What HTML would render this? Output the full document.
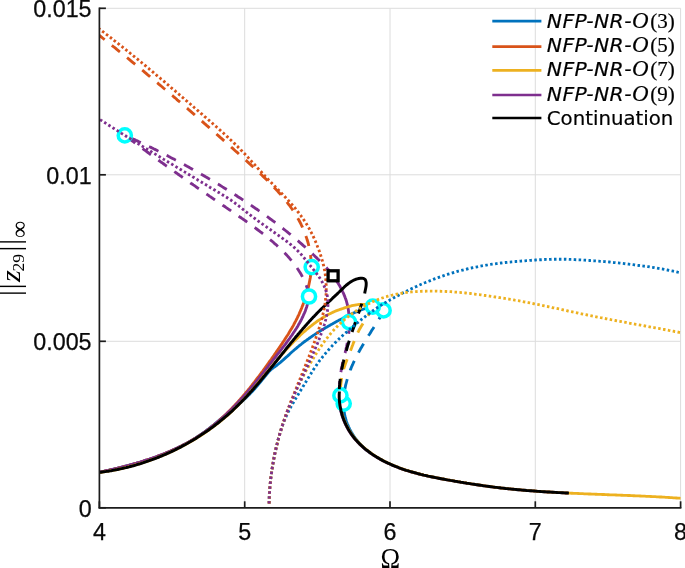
<!DOCTYPE html>
<html><head><meta charset="utf-8"><title>NFP-NR frequency response</title>
<style>
html,body{margin:0;padding:0;background:#fff;}
svg{display:block}
</style></head>
<body>
<svg width="685" height="568" viewBox="0 0 685 568">
<rect width="685" height="568" fill="#fff"/>
<g stroke="#dcdcdc" stroke-width="1"><line x1="244.7" y1="8.3" x2="244.7" y2="507.8"/><line x1="390.0" y1="8.3" x2="390.0" y2="507.8"/><line x1="535.3" y1="8.3" x2="535.3" y2="507.8"/><line x1="680.6" y1="8.3" x2="680.6" y2="507.8"/><line x1="99.4" y1="341.3" x2="680.6" y2="341.3"/><line x1="99.4" y1="174.8" x2="680.6" y2="174.8"/><line x1="99.4" y1="8.3" x2="680.6" y2="8.3"/></g>
<defs><clipPath id="pa"><rect x="99.4" y="8.3" width="581.2" height="499.5"/></clipPath></defs>
<g fill="none" clip-path="url(#pa)">
<path d="M99.4,472.3 L100.9,472.0 L102.3,471.6 L103.8,471.3 L105.3,471.0 L106.7,470.7 L108.2,470.3 L109.6,470.0 L111.1,469.7 L112.6,469.3 L114.0,469.0 L115.5,468.6 L117.0,468.3 L118.4,467.9 L119.9,467.6 L121.4,467.2 L122.8,466.8 L124.3,466.5 L125.8,466.1 L127.2,465.7 L128.7,465.3 L130.2,464.9 L131.6,464.5 L133.1,464.1 L134.5,463.7 L136.0,463.3 L137.4,462.9 L138.9,462.5 L140.4,462.0 L141.8,461.6 L143.3,461.2 L144.7,460.7 L146.1,460.2 L147.6,459.8 L149.0,459.3 L150.5,458.8 L151.9,458.3 L153.3,457.9 L154.7,457.3 L156.2,456.8 L157.6,456.3 L159.0,455.8 L160.4,455.3 L161.8,454.7 L163.2,454.2 L164.6,453.6 L166.0,453.1 L167.4,452.5 L168.8,451.9 L170.2,451.3 L171.6,450.7 L172.9,450.1 L174.3,449.5 L175.7,448.8 L177.0,448.2 L178.4,447.5 L179.7,446.9 L181.1,446.2 L182.4,445.5 L183.8,444.8 L185.1,444.1 L186.4,443.4 L187.7,442.7 L189.0,441.9 L190.3,441.2 L191.6,440.4 L192.9,439.7 L194.2,438.9 L195.5,438.1 L196.7,437.3 L198.0,436.4 L199.2,435.6 L200.5,434.8 L201.7,433.9 L203.0,433.0 L204.2,432.2 L205.4,431.3 L206.6,430.4 L207.8,429.5 L209.0,428.5 L210.2,427.6 L211.4,426.7 L212.6,425.7 L213.8,424.8 L214.9,423.8 L216.1,422.8 L217.3,421.9 L218.4,420.9 L219.6,419.9 L220.8,419.0 L221.9,418.0 L223.1,417.0 L224.3,416.0 L225.4,415.1 L226.6,414.1 L227.7,413.1 L228.9,412.1 L230.1,411.2 L231.2,410.2 L232.4,409.3 L233.5,408.3 L234.7,407.3 L235.9,406.4 L237.0,405.4 L238.2,404.5 L239.4,403.5 L240.5,402.6 L241.6,401.6 L242.8,400.6 L243.9,399.6 L245.0,398.6 L246.1,397.6 L247.2,396.6 L248.3,395.5 L249.4,394.5 L250.4,393.4 L251.4,392.3 L252.5,391.2 L253.5,390.1 L254.5,389.0 L255.5,387.8 L256.5,386.7 L257.5,385.5 L258.5,384.4 L259.5,383.2 L260.4,382.1 L261.4,380.9 L262.3,379.7 L263.3,378.5 L264.3,377.4 L265.2,376.2 L266.2,375.0 L267.1,373.8 L268.1,372.7 L269.0,371.6 L270.1,370.5 L271.2,369.5 L272.3,368.5 L273.5,367.6 L274.8,366.8 L276.0,365.9 L277.2,365.0 L278.4,364.0 L279.5,363.1 L280.7,362.1 L281.8,361.1 L283.0,360.1 L284.1,359.1 L285.2,358.1 L286.3,357.1 L287.5,356.1 L288.6,355.1 L289.7,354.1 L290.8,353.0 L291.9,352.0 L293.1,351.0 L294.2,350.0 L295.3,349.1 L296.5,348.1 L297.6,347.1 L298.8,346.2 L300.0,345.2 L301.2,344.3 L302.3,343.3 L303.5,342.4 L304.7,341.5 L306.0,340.6 L307.2,339.7 L308.4,338.9 L309.6,338.0 L310.9,337.1 L312.1,336.3 L313.3,335.4 L314.6,334.6 L315.9,333.8 L317.1,332.9 L318.4,332.1 L319.7,331.3 L321.0,330.5 L322.2,329.7 L323.5,329.0 L324.8,328.2 L326.1,327.4 L327.4,326.7 L328.7,325.9 L330.0,325.2 L331.3,324.4 L332.7,323.7 L334.0,322.9 L335.3,322.2 L336.6,321.5 L338.0,320.8 L339.3,320.1 L340.6,319.4 L342.0,318.7 L343.3,318.0 L344.6,317.3 L346.0,316.6 L347.3,316.0 L348.7,315.3 L350.0,314.6 L351.4,314.0 L352.8,313.4 L354.1,312.8 L355.5,312.2 L356.9,311.6 L358.3,311.0 L359.7,310.5 L361.1,310.0 L362.5,309.5 L364.0,309.0 L365.4,308.5 L366.9,308.1 L368.4,307.7 L369.9,307.4 L371.4,307.2 L372.9,307.0 L374.3,306.9 L375.8,307.0 L377.3,307.1 L378.7,307.4 L380.1,307.9 L381.5,308.5 L382.9,309.2 L384.2,310.2" stroke="#0072BD" stroke-width="2.85" fill="none" stroke-linejoin="round"/>
<path d="M384.4,310.4 L383.6,311.7 L382.8,313.0 L382.0,314.3 L381.2,315.6 L380.4,316.9 L379.6,318.1 L378.8,319.4 L378.0,320.7 L377.2,322.0 L376.4,323.3 L375.5,324.6 L374.7,325.9 L373.9,327.2 L373.1,328.5 L372.2,329.8 L371.4,331.1 L370.6,332.4 L369.8,333.7 L368.9,335.0 L368.1,336.3 L367.3,337.6 L366.5,339.0 L365.7,340.3 L364.9,341.6 L364.1,342.9 L363.3,344.2 L362.5,345.6 L361.7,346.9 L360.9,348.2 L360.2,349.6 L359.4,350.9 L358.7,352.3 L358.0,353.6 L357.2,355.0 L356.5,356.4 L355.8,357.7 L355.1,359.1 L354.5,360.5 L353.8,361.9 L353.2,363.3 L352.6,364.7 L351.9,366.1 L351.3,367.5 L350.8,368.9 L350.2,370.3 L349.7,371.8 L349.2,373.2 L348.7,374.6 L348.2,376.1 L347.7,377.6 L347.3,379.0 L346.9,380.5 L346.5,382.0 L346.1,383.5 L345.7,384.9 L345.4,386.4 L345.1,387.9 L344.8,389.5 L344.6,391.0 L344.4,392.5 L344.2,394.0 L344.0,395.6 L343.9,397.1 L343.8,398.7 L343.7,400.2 L343.6,401.8 L343.6,403.4" stroke="#0072BD" stroke-width="2.85" fill="none" stroke-dasharray="10.4 9.2" stroke-dashoffset="0.0"/>
<path d="M343.7,403.6 L343.7,405.2 L343.7,406.8 L343.8,408.4 L343.9,409.9 L344.1,411.5 L344.4,413.1 L344.6,414.6 L345.0,416.2 L345.3,417.7 L345.8,419.2 L346.2,420.7 L346.7,422.2 L347.3,423.7 L347.9,425.1 L348.5,426.6 L349.1,428.0 L349.8,429.4 L350.6,430.8 L351.4,432.2 L352.2,433.5 L353.0,434.9 L353.9,436.2 L354.8,437.5 L355.7,438.8 L356.7,440.0 L357.7,441.2 L358.7,442.5 L359.8,443.6 L360.9,444.8 L362.0,445.9 L363.1,447.1 L364.2,448.1 L365.4,449.2 L366.6,450.2 L367.8,451.2 L369.1,452.2 L370.3,453.2" stroke="#0072BD" stroke-width="2.85" fill="none" stroke-linejoin="round"/>
<path d="M99.5,472.2 L100.9,471.9 L102.4,471.6 L103.8,471.3 L105.3,471.0 L106.7,470.7 L108.2,470.4 L109.6,470.0 L111.1,469.7 L112.6,469.4 L114.0,469.0 L115.5,468.7 L116.9,468.3 L118.4,468.0 L119.9,467.6 L121.3,467.3 L122.8,466.9 L124.3,466.5 L125.7,466.1 L127.2,465.8 L128.7,465.4 L130.1,465.0 L131.6,464.6 L133.1,464.2 L134.5,463.7 L136.0,463.3 L137.5,462.9 L138.9,462.5 L140.4,462.0 L141.8,461.6 L143.3,461.1 L144.8,460.7 L146.2,460.2 L147.7,459.7 L149.1,459.3 L150.5,458.8 L152.0,458.3 L153.4,457.8 L154.9,457.3 L156.3,456.8 L157.7,456.2 L159.2,455.7 L160.6,455.2 L162.0,454.6 L163.4,454.1 L164.8,453.5 L166.2,452.9 L167.6,452.3 L169.0,451.7 L170.4,451.1 L171.8,450.5 L173.2,449.9 L174.6,449.3 L176.0,448.7 L177.3,448.0 L178.7,447.4 L180.1,446.7 L181.4,446.0 L182.8,445.3 L184.1,444.6 L185.4,443.9 L186.8,443.2 L188.1,442.5 L189.4,441.8 L190.7,441.0 L192.0,440.3 L193.3,439.5 L194.6,438.7 L195.9,437.9 L197.2,437.1 L198.4,436.3 L199.7,435.5 L200.9,434.7 L202.2,433.8 L203.4,432.9 L204.6,432.1 L205.9,431.2 L207.1,430.3 L208.3,429.4 L209.5,428.5 L210.7,427.6 L211.8,426.6 L213.0,425.7 L214.2,424.7 L215.3,423.8 L216.5,422.8 L217.6,421.8 L218.8,420.8 L219.9,419.8 L221.0,418.8 L222.1,417.8 L223.2,416.8 L224.3,415.7 L225.4,414.7 L226.5,413.7 L227.6,412.6 L228.7,411.5 L229.7,410.5 L230.8,409.4 L231.9,408.3 L232.9,407.2 L234.0,406.1 L235.0,405.0 L236.0,403.9 L237.1,402.8 L238.1,401.6 L239.1,400.5 L240.1,399.4 L241.1,398.2 L242.1,397.1 L243.1,395.9 L244.1,394.8 L245.1,393.6 L246.0,392.5 L247.0,391.3 L248.0,390.1 L248.9,389.0 L249.9,387.8 L250.8,386.6 L251.8,385.4 L252.7,384.2 L253.6,383.0 L254.6,381.8 L255.5,380.6 L256.4,379.4 L257.3,378.2 L258.3,377.0 L259.2,375.8 L260.1,374.6 L261.0,373.4 L261.9,372.2 L262.8,371.0 L263.6,369.8 L264.5,368.6 L265.4,367.3 L266.3,366.1 L267.2,364.9 L268.1,363.7 L268.9,362.4 L269.8,361.2 L270.7,360.0 L271.6,358.8 L272.4,357.5 L273.3,356.3 L274.2,355.1 L275.0,353.8 L275.9,352.6 L276.7,351.3 L277.6,350.1 L278.5,348.9 L279.3,347.6 L280.2,346.4 L281.0,345.1 L281.9,343.9 L282.7,342.6 L283.6,341.3 L284.4,340.1 L285.2,338.8 L286.0,337.5 L286.8,336.3 L287.7,335.0 L288.5,333.7 L289.2,332.4 L290.0,331.1 L290.8,329.8 L291.6,328.5 L292.3,327.2 L293.1,325.9 L293.8,324.6 L294.5,323.2 L295.2,321.9 L295.9,320.6 L296.6,319.2 L297.3,317.9 L297.9,316.5 L298.6,315.1 L299.2,313.8 L299.8,312.4 L300.4,311.0 L301.0,309.6 L301.6,308.2 L302.1,306.8 L302.7,305.4 L303.2,304.0 L303.8,302.6 L304.3,301.2 L304.8,299.7 L305.2,298.3 L305.7,296.9 L306.1,295.4 L306.6,294.0 L307.0,292.5 L307.4,291.0 L307.8,289.6 L308.1,288.1 L308.5,286.6 L308.8,285.2 L309.1,283.7 L309.4,282.2 L309.7,280.7 L310.0,279.2 L310.3,277.7 L310.5,276.2 L310.7,274.7 L310.9,273.2 L311.1,271.7 L311.2,270.2 L311.4,268.7 L311.5,267.2" stroke="#D95319" stroke-width="2.85" fill="none" stroke-linejoin="round"/>
<path d="M311.3,267.4 L311.3,265.8 L311.2,264.2 L311.2,262.7 L311.1,261.1 L311.0,259.5 L310.8,258.0 L310.7,256.5 L310.5,254.9 L310.2,253.4 L310.0,251.9 L309.7,250.4 L309.5,248.9 L309.1,247.4 L308.8,245.9 L308.5,244.4 L308.1,243.0 L307.7,241.5 L307.2,240.1 L306.8,238.6 L306.3,237.2 L305.8,235.8 L305.3,234.3 L304.8,232.9 L304.3,231.5 L303.7,230.2 L303.1,228.8 L302.5,227.4 L301.9,226.1 L301.2,224.7 L300.6,223.4 L299.9,222.0 L299.2,220.7 L298.5,219.4 L297.7,218.1 L297.0,216.8 L296.2,215.5 L295.4,214.2 L294.6,212.9 L293.8,211.7 L293.0,210.4 L292.2,209.2 L291.3,208.0 L290.4,206.7 L289.5,205.5 L288.6,204.3 L287.7,203.1 L286.8,201.9 L285.9,200.7 L284.9,199.6 L284.0,198.4 L283.0,197.2 L282.0,196.1 L281.0,195.0 L280.0,193.8 L279.0,192.7 L278.0,191.6 L277.0,190.4 L275.9,189.3 L274.9,188.2 L273.8,187.1 L272.8,186.0 L271.7,184.9 L270.7,183.9 L269.6,182.8 L268.5,181.7 L267.4,180.6 L266.4,179.6 L265.3,178.5 L264.2,177.4 L263.1,176.4 L262.0,175.3 L260.9,174.3 L259.8,173.2 L258.7,172.2 L257.6,171.1 L256.5,170.1 L255.4,169.1 L254.3,168.0 L253.2,167.0 L252.0,166.0 L250.9,164.9 L249.8,163.9 L248.7,162.9 L247.6,161.9 L246.5,160.8 L245.3,159.8 L244.2,158.8 L243.1,157.8 L242.0,156.8 L240.8,155.8 L239.7,154.8 L238.6,153.7 L237.5,152.7 L236.3,151.7 L235.2,150.7 L234.1,149.7 L233.0,148.7 L231.8,147.7 L230.7,146.7 L229.6,145.7 L228.4,144.7 L227.3,143.6 L226.2,142.6 L225.0,141.6 L223.9,140.6 L222.8,139.6 L221.7,138.6 L220.5,137.6 L219.4,136.6 L218.3,135.6 L217.1,134.6 L216.0,133.6 L214.9,132.6 L213.7,131.6 L212.6,130.6 L211.5,129.6 L210.3,128.6 L209.2,127.6 L208.1,126.6 L206.9,125.6 L205.8,124.6 L204.6,123.6 L203.5,122.6 L202.4,121.6 L201.2,120.6 L200.1,119.6 L199.0,118.6 L197.8,117.6 L196.7,116.6 L195.5,115.6 L194.4,114.6 L193.3,113.6 L192.1,112.6 L191.0,111.6 L189.8,110.6 L188.7,109.7 L187.6,108.7 L186.4,107.7 L185.3,106.7 L184.1,105.7 L183.0,104.7 L181.8,103.7 L180.7,102.7 L179.5,101.7 L178.4,100.8 L177.2,99.8 L176.1,98.8 L175.0,97.8 L173.8,96.8 L172.7,95.8 L171.5,94.9 L170.4,93.9 L169.2,92.9 L168.1,91.9 L166.9,90.9 L165.8,89.9 L164.6,89.0 L163.4,88.0 L162.3,87.0 L161.1,86.0 L160.0,85.1 L158.8,84.1 L157.7,83.1 L156.5,82.1 L155.4,81.2 L154.2,80.2 L153.0,79.2 L151.9,78.2 L150.7,77.3 L149.6,76.3 L148.4,75.3 L147.2,74.4 L146.1,73.4 L144.9,72.4 L143.8,71.4 L142.6,70.5 L141.4,69.5 L140.3,68.5 L139.1,67.6 L137.9,66.6 L136.8,65.7 L135.6,64.7 L134.4,63.7 L133.3,62.8 L132.1,61.8 L130.9,60.8 L129.8,59.9 L128.6,58.9 L127.4,58.0 L126.2,57.0 L125.1,56.1 L123.9,55.1 L122.7,54.1 L121.5,53.2 L120.4,52.2 L119.2,51.3 L118.0,50.3 L116.8,49.4 L115.7,48.4 L114.5,47.5 L113.3,46.5 L112.1,45.6 L110.9,44.6 L109.8,43.7 L108.6,42.7 L107.4,41.8 L106.2,40.8 L105.0,39.9 L103.8,39.0 L102.6,38.0 L101.5,37.1 L100.3,36.1 L99.1,35.2 L97.9,34.2 L96.7,33.3 L95.5,32.4 L94.3,31.4 L93.1,30.5 L91.9,29.6" stroke="#D95319" stroke-width="2.85" fill="none" stroke-dasharray="10.4 9.2" stroke-dashoffset="17.6"/>
<path d="M99.4,472.2 L100.9,471.9 L102.3,471.6 L103.8,471.3 L105.3,471.0 L106.7,470.7 L108.2,470.4 L109.6,470.1 L111.1,469.7 L112.6,469.4 L114.0,469.1 L115.5,468.7 L117.0,468.4 L118.4,468.0 L119.9,467.7 L121.4,467.3 L122.8,466.9 L124.3,466.6 L125.8,466.2 L127.2,465.8 L128.7,465.4 L130.2,465.0 L131.6,464.6 L133.1,464.2 L134.6,463.8 L136.0,463.4 L137.5,462.9 L138.9,462.5 L140.4,462.1 L141.8,461.6 L143.3,461.2 L144.7,460.7 L146.2,460.2 L147.6,459.8 L149.1,459.3 L150.5,458.8 L152.0,458.3 L153.4,457.8 L154.8,457.3 L156.3,456.8 L157.7,456.2 L159.1,455.7 L160.5,455.1 L161.9,454.6 L163.4,454.0 L164.8,453.5 L166.2,452.9 L167.6,452.3 L169.0,451.7 L170.4,451.1 L171.7,450.5 L173.1,449.9 L174.5,449.3 L175.9,448.6 L177.2,448.0 L178.6,447.3 L180.0,446.6 L181.3,446.0 L182.7,445.3 L184.0,444.6 L185.3,443.9 L186.7,443.2 L188.0,442.4 L189.3,441.7 L190.6,441.0 L191.9,440.2 L193.2,439.5 L194.5,438.7 L195.8,437.9 L197.1,437.1 L198.3,436.3 L199.6,435.5 L200.9,434.6 L202.1,433.8 L203.4,433.0 L204.6,432.1 L205.8,431.2 L207.0,430.3 L208.2,429.5 L209.4,428.6 L210.6,427.6 L211.8,426.7 L213.0,425.8 L214.2,424.8 L215.4,423.9 L216.5,422.9 L217.7,422.0 L218.8,421.0 L220.0,420.0 L221.1,419.0 L222.2,418.0 L223.4,417.0 L224.5,416.0 L225.6,415.0 L226.7,413.9 L227.8,412.9 L228.9,411.9 L230.0,410.8 L231.0,409.7 L232.1,408.7 L233.2,407.6 L234.2,406.5 L235.3,405.4 L236.3,404.3 L237.4,403.2 L238.4,402.1 L239.5,401.0 L240.5,399.9 L241.5,398.8 L242.5,397.7 L243.6,396.6 L244.6,395.4 L245.6,394.3 L246.6,393.1 L247.6,392.0 L248.5,390.8 L249.5,389.7 L250.5,388.5 L251.5,387.4 L252.4,386.2 L253.4,385.1 L254.4,383.9 L255.3,382.7 L256.3,381.5 L257.2,380.4 L258.2,379.2 L259.1,378.0 L260.0,376.8 L261.0,375.6 L261.9,374.5 L262.8,373.3 L263.8,372.1 L264.7,370.9 L265.6,369.7 L266.5,368.5 L267.5,367.3 L268.4,366.1 L269.3,364.9 L270.2,363.7 L271.2,362.5 L272.1,361.3 L273.0,360.1 L273.9,358.9 L274.9,357.8 L275.8,356.6 L276.7,355.4 L277.6,354.2 L278.6,353.0 L279.5,351.8 L280.4,350.6 L281.4,349.4 L282.3,348.2 L283.2,347.0 L284.1,345.8 L285.1,344.6 L286.0,343.4 L286.9,342.1 L287.8,340.9 L288.7,339.7 L289.6,338.5 L290.4,337.2 L291.3,336.0 L292.2,334.8 L293.0,333.5 L293.8,332.3 L294.7,331.0 L295.5,329.7 L296.3,328.5 L297.1,327.2 L297.9,325.9 L298.6,324.6 L299.4,323.3 L300.1,322.0 L300.8,320.7 L301.5,319.4 L302.1,318.0 L302.8,316.7 L303.4,315.3 L304.0,313.9 L304.6,312.6 L305.2,311.2 L305.7,309.8 L306.2,308.3 L306.7,306.9 L307.1,305.5 L307.5,304.0 L307.9,302.5 L308.2,301.0 L308.6,299.5 L308.8,298.0 L309.1,296.5" stroke="#7E2F8E" stroke-width="2.85" fill="none" stroke-linejoin="round"/>
<path d="M309.4,296.5 L309.1,294.9 L308.8,293.4 L308.4,291.9 L307.9,290.4 L307.5,288.9 L307.0,287.5 L306.5,286.0 L306.0,284.6 L305.4,283.2 L304.8,281.8 L304.2,280.5 L303.5,279.1 L302.9,277.8 L302.2,276.4 L301.5,275.1 L300.8,273.8 L300.0,272.5 L299.2,271.3 L298.4,270.0 L297.6,268.8 L296.8,267.5 L295.9,266.3 L295.0,265.1 L294.1,263.9 L293.2,262.7 L292.3,261.6 L291.3,260.4 L290.4,259.3 L289.4,258.1 L288.4,257.0 L287.4,255.9 L286.4,254.8 L285.4,253.7 L284.3,252.6 L283.3,251.6 L282.2,250.5 L281.1,249.5 L280.0,248.4 L278.9,247.4 L277.8,246.4 L276.7,245.3 L275.6,244.3 L274.4,243.3 L273.3,242.3 L272.2,241.3 L271.0,240.4 L269.8,239.4 L268.7,238.4 L267.5,237.5 L266.3,236.5 L265.2,235.5 L264.0,234.6 L262.8,233.7 L261.6,232.7 L260.4,231.8 L259.2,230.9 L258.0,230.0 L256.7,229.0 L255.5,228.1 L254.3,227.2 L253.1,226.3 L251.9,225.4 L250.6,224.5 L249.4,223.7 L248.2,222.8 L246.9,221.9 L245.7,221.0 L244.4,220.1 L243.2,219.3 L241.9,218.4 L240.7,217.5 L239.4,216.7 L238.2,215.8 L236.9,214.9 L235.7,214.1 L234.4,213.2 L233.2,212.3 L231.9,211.5 L230.7,210.6 L229.4,209.8 L228.1,208.9 L226.9,208.1 L225.6,207.2 L224.4,206.3 L223.1,205.5 L221.9,204.6 L220.6,203.8 L219.4,202.9 L218.1,202.1 L216.9,201.2 L215.6,200.3 L214.4,199.5 L213.1,198.6 L211.9,197.8 L210.7,196.9 L209.4,196.1 L208.2,195.2 L206.9,194.3 L205.7,193.5 L204.4,192.6 L203.2,191.8 L202.0,190.9 L200.7,190.0 L199.5,189.2 L198.2,188.3 L197.0,187.5 L195.8,186.6 L194.5,185.7 L193.3,184.9 L192.1,184.0 L190.8,183.2 L189.6,182.3 L188.4,181.4 L187.1,180.6 L185.9,179.7 L184.7,178.8 L183.4,178.0 L182.2,177.1 L181.0,176.2 L179.7,175.4 L178.5,174.5 L177.3,173.6 L176.1,172.8 L174.8,171.9 L173.6,171.0 L172.4,170.1 L171.1,169.3 L169.9,168.4 L168.7,167.5 L167.5,166.6 L166.2,165.8 L165.0,164.9 L163.8,164.0 L162.6,163.1 L161.3,162.3 L160.1,161.4 L158.9,160.5 L157.7,159.6 L156.4,158.7 L155.2,157.8 L154.0,157.0 L152.8,156.1 L151.6,155.2 L150.3,154.3 L149.1,153.4 L147.9,152.5 L146.7,151.6 L145.5,150.7 L144.2,149.8 L143.0,148.9 L141.8,148.0 L140.6,147.1 L139.4,146.2 L138.1,145.3 L136.9,144.4 L135.7,143.5 L134.5,142.6 L133.3,141.7 L132.1,140.8 L130.8,139.9 L129.6,139.0 L128.4,138.1 L127.2,137.2 L126.0,136.2 L124.8,135.3" stroke="#7E2F8E" stroke-width="2.85" fill="none" stroke-dasharray="10.4 9.2" stroke-dashoffset="18.2"/>
<path d="M124.9,135.3 L126.3,135.9 L127.6,136.5 L129.0,137.1 L130.4,137.8 L131.7,138.4 L133.1,139.0 L134.5,139.6 L135.9,140.3 L137.2,140.9 L138.6,141.6 L140.0,142.2 L141.3,142.8 L142.7,143.5 L144.1,144.1 L145.4,144.8 L146.8,145.4 L148.1,146.1 L149.5,146.8 L150.9,147.4 L152.2,148.1 L153.6,148.8 L154.9,149.4 L156.3,150.1 L157.6,150.8 L159.0,151.5 L160.3,152.1 L161.7,152.8 L163.0,153.5 L164.4,154.2 L165.7,154.9 L167.1,155.6 L168.4,156.3 L169.8,157.0 L171.1,157.7 L172.5,158.4 L173.8,159.1 L175.1,159.8 L176.5,160.5 L177.8,161.2 L179.2,161.9 L180.5,162.7 L181.8,163.4 L183.2,164.1 L184.5,164.8 L185.8,165.6 L187.1,166.3 L188.5,167.0 L189.8,167.8 L191.1,168.5 L192.4,169.2 L193.8,170.0 L195.1,170.7 L196.4,171.5 L197.7,172.2 L199.1,173.0 L200.4,173.7 L201.7,174.5 L203.0,175.2 L204.3,176.0 L205.6,176.8 L206.9,177.5 L208.2,178.3 L209.5,179.1 L210.9,179.8 L212.2,180.6 L213.5,181.4 L214.8,182.2 L216.1,183.0 L217.4,183.8 L218.7,184.5 L220.0,185.3 L221.3,186.1 L222.5,186.9 L223.8,187.7 L225.1,188.5 L226.4,189.3 L227.7,190.1 L229.0,190.9 L230.3,191.7 L231.6,192.6 L232.8,193.4 L234.1,194.2 L235.4,195.0 L236.7,195.8 L237.9,196.7 L239.2,197.5 L240.5,198.3 L241.8,199.1 L243.0,200.0 L244.3,200.8 L245.6,201.7 L246.8,202.5 L248.1,203.3 L249.3,204.2 L250.6,205.0 L251.9,205.9 L253.1,206.7 L254.4,207.6 L255.6,208.5 L256.9,209.3 L258.1,210.2 L259.4,211.1 L260.6,211.9 L261.8,212.8 L263.1,213.7 L264.3,214.6 L265.5,215.4 L266.8,216.3 L268.0,217.2 L269.2,218.1 L270.4,219.0 L271.7,219.9 L272.9,220.8 L274.1,221.7 L275.3,222.6 L276.5,223.5 L277.7,224.5 L278.9,225.4 L280.1,226.3 L281.3,227.2 L282.5,228.2 L283.7,229.1 L284.9,230.0 L286.1,231.0 L287.2,231.9 L288.4,232.9 L289.6,233.8 L290.8,234.8 L291.9,235.7 L293.1,236.7 L294.3,237.7 L295.4,238.6 L296.6,239.6 L297.7,240.6 L298.9,241.6 L300.0,242.6 L301.2,243.6 L302.3,244.6 L303.4,245.6 L304.6,246.6 L305.7,247.6 L306.8,248.6 L307.9,249.6 L309.0,250.6 L310.1,251.7 L311.3,252.7 L312.4,253.7 L313.4,254.8 L314.5,255.8 L315.6,256.9 L316.7,257.9 L317.8,259.0 L318.9,260.0 L319.9,261.1 L321.0,262.2 L322.1,263.3 L323.1,264.4 L324.2,265.4 L325.2,266.5 L326.3,267.6 L327.3,268.7 L328.4,269.8 L329.4,271.0 L330.4,272.1 L331.4,273.2 L332.4,274.3 L333.5,275.5" stroke="#7E2F8E" stroke-width="2.85" fill="none" stroke-dasharray="10.4 9.2" stroke-dashoffset="12.5"/>
<path d="M333.0,275.9 L333.9,277.1 L334.8,278.4 L335.7,279.7 L336.6,281.0 L337.4,282.3 L338.3,283.6 L339.1,284.9 L339.9,286.3 L340.6,287.6 L341.4,289.0 L342.1,290.4 L342.7,291.8 L343.4,293.2 L344.0,294.6 L344.6,296.1 L345.1,297.5 L345.7,299.0 L346.2,300.4 L346.6,301.9 L347.0,303.4 L347.4,304.9 L347.7,306.4 L348.0,307.9 L348.3,309.5 L348.5,311.0 L348.7,312.6 L348.8,314.1 L348.9,315.7 L349.0,317.3 L349.0,318.8 L348.9,320.4 L348.8,322.0" stroke="#7E2F8E" stroke-width="2.85" fill="none" stroke-linejoin="round"/>
<path d="M348.9,322.0 L349.0,323.6 L349.1,325.1 L349.1,326.6 L349.1,328.2 L349.0,329.7 L348.9,331.3 L348.8,332.8 L348.6,334.3 L348.5,335.8 L348.2,337.4 L348.0,338.9 L347.8,340.4 L347.5,341.9 L347.2,343.4 L346.9,345.0 L346.6,346.5 L346.2,348.0 L345.9,349.5 L345.5,351.0 L345.2,352.5 L344.8,354.0 L344.5,355.5 L344.1,357.1 L343.7,358.6 L343.4,360.1 L343.0,361.6 L342.6,363.1 L342.3,364.6 L342.0,366.1 L341.6,367.6 L341.3,369.1 L341.1,370.7 L340.8,372.2 L340.5,373.7 L340.3,375.2 L340.1,376.7 L339.9,378.2 L339.8,379.8 L339.6,381.3 L339.6,382.8 L339.5,384.3 L339.5,385.9 L339.5,387.4 L339.6,389.0 L339.7,390.5 L339.8,392.0 L340.0,393.6 L340.2,395.1" stroke="#7E2F8E" stroke-width="2.85" fill="none" stroke-dasharray="10.4 9.2" stroke-dashoffset="18.2"/>
<path d="M340.4,395.4 L338.9,397.5 L339.0,399.0 L339.1,400.5 L339.2,402.0 L339.4,403.6 L339.6,405.1 L339.9,406.6 L340.2,408.1 L340.5,409.6 L340.8,411.1 L341.2,412.5 L341.6,414.0 L342.0,415.5 L342.5,416.9 L343.0,418.4 L343.5,419.8 L344.1,421.2 L344.7,422.6 L345.3,424.0 L346.0,425.4 L346.7,426.7 L347.4,428.0 L348.1,429.4 L348.9,430.7 L349.7,431.9 L350.5,433.2 L351.3,434.4 L352.2,435.6 L353.1,436.8 L354.0,438.0 L355.0,439.2 L356.0,440.3 L357.0,441.4 L358.0,442.5 L359.0,443.6 L360.1,444.6 L361.2,445.7 L362.3,446.7 L363.4,447.7 L364.5,448.6 L365.7,449.6 L366.9,450.5 L368.1,451.4 L369.3,452.3 L370.5,453.2 L371.8,454.1 L373.0,454.9 L374.3,455.8 L375.6,456.6 L376.9,457.4 L378.2,458.1 L379.5,458.9 L380.8,459.6 L382.2,460.4 L383.5,461.1 L384.9,461.8 L386.2,462.4 L387.6,463.1 L389.0,463.7 L390.4,464.3 L391.7,465.0 L393.1,465.5 L394.5,466.1 L395.9,466.7 L397.3,467.2 L398.8,467.8 L400.2,468.3 L401.6,468.8 L403.0,469.3 L404.5,469.8 L405.9,470.3 L407.3,470.7 L408.8,471.2 L410.2,471.6 L411.7,472.0 L413.1,472.4 L414.6,472.8 L416.0,473.2 L417.5,473.6 L419.0,474.0 L420.4,474.4 L421.9,474.7 L423.4,475.1 L424.8,475.4 L426.3,475.7 L427.8,476.1 L429.3,476.4 L430.7,476.7 L432.2,477.0 L433.7,477.3 L435.2,477.6 L436.7,477.9 L438.2,478.2 L439.7,478.5 L441.2,478.8 L442.6,479.0 L444.1,479.3 L445.6,479.6 L447.1,479.9 L448.6,480.1 L450.1,480.4 L451.6,480.6 L453.1,480.9 L454.6,481.2 L456.1,481.4 L457.6,481.7 L459.0,481.9 L460.5,482.2 L462.0,482.4 L463.5,482.7 L465.0,482.9 L466.5,483.2 L468.0,483.4 L469.5,483.6 L471.0,483.9 L472.5,484.1 L473.9,484.3 L475.4,484.6 L476.9,484.8 L478.4,485.0 L479.9,485.2 L481.4,485.4 L482.9,485.7 L484.4,485.9 L485.9,486.1 L487.4,486.3 L488.9,486.5 L490.4,486.7 L491.9,486.9 L493.3,487.1 L494.8,487.3 L496.3,487.4 L497.8,487.6 L499.3,487.8 L500.8,488.0 L502.3,488.1 L503.8,488.3 L505.3,488.5 L506.8,488.6 L508.3,488.8 L509.8,488.9 L511.3,489.1 L512.8,489.2 L514.3,489.4 L515.8,489.5 L517.3,489.7 L518.8,489.8 L520.3,489.9 L521.8,490.1 L523.3,490.2 L524.8,490.3 L526.3,490.5 L527.9,490.6 L529.4,490.7 L530.9,490.8 L532.4,490.9 L533.9,491.0 L535.4,491.1 L536.9,491.3 L538.4,491.4 L539.9,491.5 L541.4,491.6 L542.9,491.7 L544.4,491.8 L545.9,491.9 L547.4,492.0 L549.0,492.0 L550.5,492.1 L552.0,492.2 L553.5,492.3 L555.0,492.4 L556.5,492.5 L558.0,492.6 L559.5,492.6 L561.0,492.7 L562.5,492.8 L564.0,492.9 L565.6,493.0 L567.1,493.0 L568.6,493.1" stroke="#7E2F8E" stroke-width="2.85" fill="none" stroke-linejoin="round"/>
<path d="M99.4,472.5 L100.9,472.3 L102.4,472.1 L103.8,471.9 L105.3,471.6 L106.8,471.4 L108.3,471.1 L109.8,470.9 L111.3,470.6 L112.8,470.3 L114.2,470.1 L115.7,469.8 L117.2,469.5 L118.7,469.1 L120.1,468.8 L121.6,468.5 L123.1,468.2 L124.6,467.8 L126.0,467.4 L127.5,467.1 L128.9,466.7 L130.4,466.3 L131.9,465.9 L133.3,465.5 L134.8,465.1 L136.2,464.7 L137.7,464.3 L139.1,463.8 L140.6,463.4 L142.0,463.0 L143.5,462.5 L144.9,462.0 L146.3,461.5 L147.8,461.1 L149.2,460.6 L150.6,460.1 L152.0,459.5 L153.5,459.0 L154.9,458.5 L156.3,458.0 L157.7,457.4 L159.1,456.9 L160.5,456.3 L161.9,455.7 L163.3,455.1 L164.7,454.6 L166.1,454.0 L167.5,453.4 L168.9,452.7 L170.2,452.1 L171.6,451.5 L173.0,450.9 L174.3,450.2 L175.7,449.6 L177.1,448.9 L178.4,448.2 L179.8,447.5 L181.1,446.8 L182.4,446.1 L183.8,445.4 L185.1,444.7 L186.4,444.0 L187.7,443.3 L189.1,442.5 L190.4,441.8 L191.7,441.0 L193.0,440.3 L194.3,439.5 L195.6,438.7 L196.9,437.9 L198.1,437.1 L199.4,436.3 L200.7,435.5 L201.9,434.7 L203.2,433.9 L204.4,433.0 L205.7,432.2 L206.9,431.3 L208.2,430.5 L209.4,429.6 L210.6,428.7 L211.8,427.8 L213.0,426.9 L214.3,426.0 L215.5,425.1 L216.6,424.2 L217.8,423.3 L219.0,422.4 L220.2,421.4 L221.4,420.5 L222.5,419.5 L223.7,418.5 L224.8,417.6 L225.9,416.6 L227.1,415.6 L228.2,414.6 L229.3,413.6 L230.4,412.6 L231.5,411.6 L232.6,410.5 L233.7,409.5 L234.8,408.4 L235.9,407.4 L237.0,406.3 L238.0,405.3 L239.1,404.2 L240.1,403.1 L241.2,402.0 L242.2,400.9 L243.2,399.8 L244.3,398.7 L245.3,397.6 L246.3,396.5 L247.3,395.4 L248.3,394.3 L249.3,393.1 L250.3,392.0 L251.3,390.8 L252.3,389.7 L253.3,388.6 L254.3,387.4 L255.3,386.3 L256.2,385.1 L257.2,383.9 L258.2,382.8 L259.2,381.6 L260.1,380.5 L261.1,379.3 L262.1,378.1 L263.0,377.0 L264.0,375.8 L265.0,374.6 L265.9,373.5 L266.9,372.3 L267.9,371.1 L268.8,370.0 L269.8,368.8 L270.8,367.6 L271.7,366.5 L272.7,365.3 L273.7,364.1 L274.6,363.0 L275.6,361.8 L276.6,360.7 L277.6,359.5 L278.6,358.4 L279.5,357.2 L280.5,356.1 L281.5,354.9 L282.5,353.8 L283.5,352.7 L284.5,351.5 L285.5,350.4 L286.5,349.3 L287.6,348.2 L288.6,347.1 L289.6,346.0 L290.6,344.9 L291.7,343.8 L292.7,342.7 L293.8,341.6 L294.8,340.6 L295.9,339.5 L297.0,338.4 L298.0,337.4 L299.1,336.4 L300.2,335.3 L301.3,334.3 L302.4,333.3 L303.5,332.3 L304.6,331.3 L305.8,330.3 L306.9,329.3 L308.1,328.4 L309.2,327.4 L310.4,326.5 L311.6,325.5 L312.8,324.6 L314.0,323.7 L315.2,322.8 L316.4,321.9 L317.6,321.0 L318.8,320.2 L320.1,319.4 L321.4,318.6 L322.6,317.8 L323.9,317.0 L325.2,316.2 L326.5,315.5 L327.8,314.8 L329.2,314.1 L330.5,313.4 L331.9,312.7 L333.2,312.1 L334.6,311.5 L336.0,310.9 L337.4,310.4 L338.8,309.9 L340.3,309.3 L341.7,308.8 L343.2,308.4 L344.6,307.9 L346.1,307.4 L347.5,307.0 L349.0,306.5 L350.5,306.1 L351.9,305.7 L353.4,305.4 L354.9,305.1 L356.3,304.8 L357.8,304.6 L359.3,304.4 L360.8,304.3 L362.2,304.3 L363.7,304.4 L365.2,304.5 L366.6,304.7 L368.1,305.0 L369.5,305.3 L371.0,305.8 L372.4,306.4" stroke="#EDB120" stroke-width="2.85" fill="none" stroke-linejoin="round"/>
<path d="M372.4,306.6 L371.9,308.1 L371.3,309.5 L370.6,310.9 L369.9,312.2 L369.2,313.6 L368.4,314.9 L367.6,316.2 L366.8,317.5 L366.0,318.8 L365.2,320.1 L364.3,321.4 L363.5,322.7 L362.7,324.0 L361.9,325.3 L361.1,326.6 L360.3,328.0 L359.5,329.3 L358.8,330.7 L358.1,332.0 L357.4,333.4 L356.8,334.8 L356.2,336.2 L355.6,337.6 L355.0,339.0 L354.4,340.4 L353.9,341.9 L353.3,343.3 L352.8,344.7 L352.2,346.2 L351.7,347.6 L351.1,349.1 L350.6,350.5 L350.0,351.9 L349.5,353.3 L348.9,354.8 L348.3,356.2 L347.8,357.6 L347.2,359.0 L346.7,360.5 L346.1,361.9 L345.6,363.3 L345.1,364.8 L344.6,366.2 L344.1,367.7 L343.7,369.1 L343.3,370.6 L342.9,372.1 L342.5,373.6 L342.2,375.1 L341.9,376.6 L341.6,378.1 L341.4,379.7 L341.2,381.2 L341.0,382.7 L340.8,384.3 L340.7,385.8 L340.5,387.3 L340.5,388.9 L340.4,390.4 L340.4,391.9 L340.4,393.5 L340.4,395.0" stroke="#EDB120" stroke-width="2.85" fill="none" stroke-dasharray="10.4 9.2" stroke-dashoffset="0.2"/>
<path d="M340.4,395.4 L339.5,397.5 L339.6,399.0 L339.7,400.5 L339.8,402.0 L340.0,403.6 L340.2,405.1 L340.5,406.6 L340.8,408.1 L341.1,409.6 L341.4,411.1 L341.8,412.5 L342.2,414.0 L342.6,415.5 L343.1,416.9 L343.6,418.4 L344.1,419.8 L344.7,421.2 L345.3,422.6 L345.9,424.0 L346.6,425.4 L347.3,426.7 L348.0,428.0 L348.7,429.4 L349.5,430.7 L350.3,431.9 L351.1,433.2 L351.9,434.4 L352.8,435.6 L353.7,436.8 L354.6,438.0 L355.6,439.2 L356.6,440.3 L357.6,441.4 L358.6,442.5 L359.6,443.6 L360.7,444.6 L361.8,445.7 L362.9,446.7 L364.0,447.7 L365.1,448.6 L366.3,449.6 L367.5,450.5 L368.7,451.4 L369.9,452.3 L371.1,453.2 L372.4,454.1 L373.6,454.9 L374.9,455.8 L376.2,456.6 L377.5,457.4 L378.8,458.1 L380.1,458.9 L381.4,459.6 L382.8,460.4 L384.1,461.1 L385.5,461.8 L386.8,462.4 L388.2,463.1 L389.6,463.7 L391.0,464.3 L392.3,465.0 L393.7,465.5 L395.1,466.1 L396.5,466.7 L397.9,467.2 L399.4,467.8 L400.8,468.3 L402.2,468.8 L403.6,469.3 L405.1,469.8 L406.5,470.3 L407.9,470.7 L409.4,471.2 L410.8,471.6 L412.3,472.0 L413.7,472.4 L415.2,472.8 L416.6,473.2 L418.1,473.6 L419.6,474.0 L421.0,474.4 L422.5,474.7 L424.0,475.1 L425.4,475.4 L426.9,475.7 L428.4,476.1 L429.9,476.4 L431.3,476.7 L432.8,477.0 L434.3,477.3 L435.8,477.6 L437.3,477.9 L438.8,478.2 L440.3,478.5 L441.8,478.8 L443.2,479.0 L444.7,479.3 L446.2,479.6 L447.7,479.9 L449.2,480.1 L450.7,480.4 L452.2,480.6 L453.7,480.9 L455.2,481.2 L456.7,481.4 L458.2,481.7 L459.6,481.9 L461.1,482.2 L462.6,482.4 L464.1,482.7 L465.6,482.9 L467.1,483.2 L468.6,483.4 L470.1,483.6 L471.6,483.9 L473.1,484.1 L474.5,484.3 L476.0,484.6 L477.5,484.8 L479.0,485.0 L480.5,485.2 L482.0,485.4 L483.5,485.7 L485.0,485.9 L486.5,486.1 L488.0,486.3 L489.5,486.5 L491.0,486.7 L492.5,486.9 L493.9,487.1 L495.4,487.3 L496.9,487.4 L498.4,487.6 L499.9,487.8 L501.4,488.0 L502.9,488.1 L504.4,488.3 L505.9,488.5 L507.4,488.6 L508.9,488.8 L510.4,488.9 L511.9,489.1 L513.4,489.2 L514.9,489.4 L516.4,489.5 L517.9,489.7 L519.4,489.8 L520.9,489.9 L522.4,490.1 L523.9,490.2 L525.4,490.3 L526.9,490.5 L528.5,490.6 L530.0,490.7 L531.5,490.8 L533.0,490.9 L534.5,491.0 L536.0,491.1 L537.5,491.3 L539.0,491.4 L540.5,491.5 L542.0,491.6 L543.5,491.7 L545.0,491.8 L546.5,491.9 L548.0,492.0 L549.6,492.0 L551.1,492.1 L552.6,492.2 L554.1,492.3 L555.6,492.4 L557.1,492.5 L558.6,492.6 L560.1,492.6 L561.6,492.7 L563.1,492.8 L564.6,492.9 L566.2,493.0 L567.7,493.0 L569.2,493.1 L570.7,493.2 L572.2,493.2 L573.7,493.3 L575.2,493.4 L576.7,493.4 L578.2,493.5 L579.8,493.6 L581.3,493.6 L582.8,493.7 L584.3,493.8 L585.8,493.8 L587.3,493.9 L588.8,494.0 L590.3,494.0 L591.9,494.1 L593.4,494.1 L594.9,494.2 L596.4,494.2 L597.9,494.3 L599.4,494.4 L600.9,494.4 L602.4,494.5 L604.0,494.5 L605.5,494.6 L607.0,494.7 L608.5,494.7 L610.0,494.8 L611.5,494.8 L613.0,494.9 L614.5,494.9 L616.1,495.0 L617.6,495.1 L619.1,495.1 L620.6,495.2 L622.1,495.2 L623.6,495.3 L625.1,495.3 L626.6,495.4 L628.1,495.5 L629.7,495.5 L631.2,495.6 L632.7,495.7 L634.2,495.7 L635.7,495.8 L637.2,495.8 L638.7,495.9 L640.2,496.0 L641.7,496.1 L643.2,496.1 L644.8,496.2 L646.3,496.3 L647.8,496.3 L649.3,496.4 L650.8,496.5 L652.3,496.6 L653.8,496.6 L655.3,496.7 L656.8,496.8 L658.3,496.9 L659.8,497.0 L661.3,497.0 L662.8,497.1 L664.3,497.2 L665.8,497.3 L667.4,497.4 L668.9,497.5 L670.4,497.6 L671.9,497.7 L673.4,497.8 L674.9,497.9 L676.4,498.0 L677.9,498.1 L679.4,498.2 L680.9,498.3" stroke="#EDB120" stroke-width="2.85" fill="none" stroke-linejoin="round"/>
<circle cx="383.6" cy="310.4" r="6.6" stroke="#00FFFF" stroke-width="3.5" fill="#fff"/>
<circle cx="343.7" cy="403.6" r="6.6" stroke="#00FFFF" stroke-width="3.5" fill="#fff"/>
<circle cx="311.7" cy="267.1" r="6.6" stroke="#00FFFF" stroke-width="3.5" fill="#fff"/>
<circle cx="372.8" cy="306.6" r="6.6" stroke="#00FFFF" stroke-width="3.5" fill="#fff"/>
<circle cx="340.4" cy="395.4" r="6.6" stroke="#00FFFF" stroke-width="3.5" fill="#fff"/>
<circle cx="124.8" cy="135.4" r="6.6" stroke="#00FFFF" stroke-width="3.5" fill="#fff"/>
<circle cx="309" cy="296.5" r="6.6" stroke="#00FFFF" stroke-width="3.5" fill="#fff"/>
<circle cx="349" cy="322.05" r="6.6" stroke="#00FFFF" stroke-width="3.5" fill="#fff"/>
<path d="M99.3,472.4 L100.8,472.2 L102.3,472.0 L103.8,471.8 L105.3,471.6 L106.8,471.4 L108.3,471.2 L109.8,470.9 L111.3,470.7 L112.8,470.4 L114.3,470.1 L115.8,469.8 L117.2,469.6 L118.7,469.2 L120.2,468.9 L121.7,468.6 L123.1,468.3 L124.6,467.9 L126.1,467.6 L127.6,467.2 L129.0,466.9 L130.5,466.5 L131.9,466.1 L133.4,465.7 L134.8,465.3 L136.3,464.9 L137.7,464.4 L139.2,464.0 L140.6,463.6 L142.1,463.1 L143.5,462.7 L144.9,462.2 L146.4,461.7 L147.8,461.2 L149.2,460.7 L150.6,460.2 L152.1,459.7 L153.5,459.2 L154.9,458.6 L156.3,458.1 L157.7,457.5 L159.1,457.0 L160.5,456.4 L161.9,455.8 L163.3,455.2 L164.7,454.7 L166.0,454.1 L167.4,453.4 L168.8,452.8 L170.2,452.2 L171.5,451.6 L172.9,450.9 L174.2,450.3 L175.6,449.6 L176.9,448.9 L178.3,448.2 L179.6,447.6 L181.0,446.9 L182.3,446.1 L183.6,445.4 L185.0,444.7 L186.3,444.0 L187.6,443.3 L188.9,442.5 L190.2,441.8 L191.5,441.0 L192.8,440.2 L194.1,439.4 L195.4,438.7 L196.6,437.9 L197.9,437.1 L199.2,436.3 L200.5,435.4 L201.7,434.6 L203.0,433.8 L204.2,432.9 L205.5,432.1 L206.7,431.2 L207.9,430.4 L209.2,429.5 L210.4,428.6 L211.6,427.7 L212.8,426.9 L214.0,426.0 L215.2,425.0 L216.4,424.1 L217.6,423.2 L218.8,422.3 L219.9,421.3 L221.1,420.4 L222.3,419.4 L223.4,418.5 L224.6,417.5 L225.7,416.5 L226.9,415.6 L228.0,414.6 L229.1,413.6 L230.2,412.6 L231.4,411.6 L232.5,410.6 L233.6,409.5 L234.6,408.5 L235.7,407.5 L236.8,406.4 L237.9,405.4 L239.0,404.3 L240.0,403.3 L241.1,402.2 L242.1,401.1 L243.2,400.0 L244.2,399.0 L245.2,397.9 L246.3,396.8 L247.3,395.7 L248.3,394.6 L249.3,393.5 L250.3,392.3 L251.4,391.2 L252.4,390.1 L253.4,389.0 L254.3,387.8 L255.3,386.7 L256.3,385.6 L257.3,384.4 L258.3,383.3 L259.3,382.1 L260.2,381.0 L261.2,379.8 L262.2,378.7 L263.1,377.5 L264.1,376.3 L265.1,375.2 L266.0,374.0 L267.0,372.8 L267.9,371.6 L268.9,370.5 L269.8,369.3 L270.8,368.1 L271.7,366.9 L272.7,365.8 L273.6,364.6 L274.6,363.4 L275.5,362.2 L276.5,361.0 L277.4,359.8 L278.3,358.7 L279.3,357.5 L280.2,356.3 L281.2,355.1 L282.1,353.9 L283.1,352.7 L284.0,351.6 L285.0,350.4 L285.9,349.2 L286.8,348.0 L287.8,346.8 L288.7,345.7 L289.7,344.5 L290.6,343.3 L291.6,342.1 L292.6,341.0 L293.5,339.8 L294.5,338.6 L295.4,337.5 L296.4,336.3 L297.4,335.2 L298.3,334.0 L299.3,332.9 L300.3,331.7 L301.3,330.6 L302.3,329.4 L303.2,328.3 L304.2,327.2 L305.2,326.0 L306.2,324.9 L307.2,323.8 L308.2,322.7 L309.2,321.5 L310.3,320.4 L311.3,319.3 L312.3,318.2 L313.3,317.1 L314.4,316.1 L315.4,315.0 L316.4,313.9 L317.5,312.8 L318.5,311.8 L319.6,310.7 L320.7,309.7 L321.7,308.6 L322.8,307.6 L323.9,306.5 L325.0,305.5 L326.0,304.4 L327.1,303.4 L328.2,302.4 L329.3,301.3 L330.4,300.3 L331.5,299.3 L332.6,298.2 L333.7,297.2 L334.8,296.1 L335.9,295.1 L337.0,294.1 L338.1,293.0 L339.2,292.0 L340.3,290.9 L341.3,289.9 L342.4,288.8 L343.5,287.8 L344.6,286.7 L345.8,285.7 L346.9,284.7 L348.1,283.8 L349.3,282.9 L350.5,282.0 L351.8,281.2 L353.1,280.5 L354.4,279.9 L355.8,279.3 L357.3,278.9 L358.8,278.5 L360.4,278.3 L361.9,278.2 L363.3,278.4 L364.5,279.0 L365.4,279.9 L365.9,281.3 L366.2,282.8 L366.2,284.4 L366.1,286.1 L365.8,287.7 L365.5,289.2 L365.2,290.7 L364.9,292.1 L364.7,293.5" stroke="#000" stroke-width="2.95" fill="none" stroke-linejoin="round"/>
<path d="M361.8,303.6 L361.3,305.1 L360.8,306.5 L360.3,308.0 L359.9,309.4 L359.4,310.9 L358.9,312.3 L358.4,313.7 L357.9,315.2 L357.4,316.6 L356.9,318.1 L356.4,319.5 L355.9,320.9 L355.4,322.4 L354.9,323.8 L354.4,325.3 L353.9,326.7 L353.4,328.2 L352.9,329.6 L352.4,331.1 L351.9,332.5 L351.5,334.0 L351.0,335.4 L350.5,336.9 L350.0,338.3 L349.6,339.8 L349.1,341.2 L348.6,342.7 L348.2,344.2 L347.7,345.6 L347.3,347.1 L346.9,348.5 L346.5,350.0 L346.0,351.5 L345.6,353.0 L345.2,354.4 L344.8,355.9 L344.5,357.4 L344.1,358.9 L343.7,360.3 L343.4,361.8 L343.0,363.3 L342.7,364.8 L342.4,366.3 L342.1,367.8 L341.8,369.3 L341.5,370.8 L341.3,372.3 L341.0,373.8 L340.8,375.3 L340.6,376.8 L340.3,378.3 L340.2,379.8 L340.0,381.3 L339.8,382.8 L339.7,384.4 L339.5,385.9 L339.4,387.4 L339.3,388.9 L339.2,390.5 L339.2,392.0" stroke="#000" stroke-width="2.95" fill="none" stroke-dasharray="10.4 9.2" stroke-dashoffset="0.0"/>
<path d="M339.4,391.5 L339.2,394.5 L339.2,396.0 L339.2,397.5 L339.3,399.0 L339.4,400.5 L339.5,402.0 L339.7,403.6 L339.9,405.1 L340.2,406.6 L340.5,408.1 L340.8,409.6 L341.1,411.1 L341.5,412.5 L341.9,414.0 L342.3,415.5 L342.8,416.9 L343.3,418.4 L343.8,419.8 L344.4,421.2 L345.0,422.6 L345.6,424.0 L346.3,425.4 L347.0,426.7 L347.7,428.0 L348.4,429.4 L349.2,430.7 L350.0,431.9 L350.8,433.2 L351.6,434.4 L352.5,435.6 L353.4,436.8 L354.3,438.0 L355.3,439.2 L356.3,440.3 L357.3,441.4 L358.3,442.5 L359.3,443.6 L360.4,444.6 L361.5,445.7 L362.6,446.7 L363.7,447.7 L364.8,448.6 L366.0,449.6 L367.2,450.5 L368.4,451.4 L369.6,452.3 L370.8,453.2 L372.1,454.1 L373.3,454.9 L374.6,455.8 L375.9,456.6 L377.2,457.4 L378.5,458.1 L379.8,458.9 L381.1,459.6 L382.5,460.4 L383.8,461.1 L385.2,461.8 L386.5,462.4 L387.9,463.1 L389.3,463.7 L390.7,464.3 L392.0,465.0 L393.4,465.5 L394.8,466.1 L396.2,466.7 L397.6,467.2 L399.1,467.8 L400.5,468.3 L401.9,468.8 L403.3,469.3 L404.8,469.8 L406.2,470.3 L407.6,470.7 L409.1,471.2 L410.5,471.6 L412.0,472.0 L413.4,472.4 L414.9,472.8 L416.3,473.2 L417.8,473.6 L419.3,474.0 L420.7,474.4 L422.2,474.7 L423.7,475.1 L425.1,475.4 L426.6,475.7 L428.1,476.1 L429.6,476.4 L431.0,476.7 L432.5,477.0 L434.0,477.3 L435.5,477.6 L437.0,477.9 L438.5,478.2 L440.0,478.5 L441.5,478.8 L442.9,479.0 L444.4,479.3 L445.9,479.6 L447.4,479.9 L448.9,480.1 L450.4,480.4 L451.9,480.6 L453.4,480.9 L454.9,481.2 L456.4,481.4 L457.9,481.7 L459.3,481.9 L460.8,482.2 L462.3,482.4 L463.8,482.7 L465.3,482.9 L466.8,483.2 L468.3,483.4 L469.8,483.6 L471.3,483.9 L472.8,484.1 L474.2,484.3 L475.7,484.6 L477.2,484.8 L478.7,485.0 L480.2,485.2 L481.7,485.4 L483.2,485.7 L484.7,485.9 L486.2,486.1 L487.7,486.3 L489.2,486.5 L490.7,486.7 L492.2,486.9 L493.6,487.1 L495.1,487.3 L496.6,487.4 L498.1,487.6 L499.6,487.8 L501.1,488.0 L502.6,488.1 L504.1,488.3 L505.6,488.5 L507.1,488.6 L508.6,488.8 L510.1,488.9 L511.6,489.1 L513.1,489.2 L514.6,489.4 L516.1,489.5 L517.6,489.7 L519.1,489.8 L520.6,489.9 L522.1,490.1 L523.6,490.2 L525.1,490.3 L526.6,490.5 L528.2,490.6 L529.7,490.7 L531.2,490.8 L532.7,490.9 L534.2,491.0 L535.7,491.1 L537.2,491.3 L538.7,491.4 L540.2,491.5 L541.7,491.6 L543.2,491.7 L544.7,491.8 L546.2,491.9 L547.7,492.0 L549.3,492.0 L550.8,492.1 L552.3,492.2 L553.8,492.3 L555.3,492.4 L556.8,492.5 L558.3,492.6 L559.8,492.6 L561.3,492.7 L562.8,492.8 L564.3,492.9 L565.9,493.0 L567.4,493.0 L568.9,493.1" stroke="#000" stroke-width="2.95" fill="none" stroke-linejoin="round"/>
<path d="M269.2,503.6 L269.2,502.1 L269.2,500.6 L269.2,499.1 L269.2,497.6 L269.2,496.1 L269.3,494.6 L269.4,493.1 L269.5,491.6 L269.6,490.1 L269.7,488.6 L269.8,487.1 L270.0,485.6 L270.1,484.1 L270.3,482.6 L270.5,481.1 L270.6,479.6 L270.8,478.1 L271.0,476.6 L271.2,475.1 L271.4,473.6 L271.7,472.1 L271.9,470.6 L272.1,469.1 L272.3,467.6 L272.6,466.2 L272.8,464.7 L273.1,463.2 L273.3,461.7 L273.6,460.2 L273.9,458.7 L274.1,457.3 L274.4,455.8 L274.7,454.3 L275.0,452.8 L275.3,451.4 L275.7,449.9 L276.0,448.4 L276.3,447.0 L276.7,445.5 L277.0,444.0 L277.4,442.6 L277.7,441.1 L278.1,439.6 L278.5,438.2 L278.9,436.7 L279.3,435.3 L279.8,433.8 L280.2,432.4 L280.7,431.0 L281.1,429.5 L281.6,428.1 L282.1,426.7 L282.6,425.3 L283.1,423.8 L283.7,422.4 L284.2,421.0 L284.8,419.6 L285.4,418.3 L286.0,416.9 L286.6,415.5 L287.2,414.1 L287.9,412.8 L288.5,411.4 L289.2,410.1 L289.9,408.8 L290.6,407.5 L291.3,406.1 L292.1,404.8 L292.8,403.5 L293.6,402.2 L294.4,400.9 L295.1,399.6 L295.9,398.3 L296.7,397.0 L297.5,395.8 L298.2,394.5 L299.0,393.2 L299.8,391.9 L300.6,390.6 L301.4,389.3 L302.2,388.0 L302.9,386.7 L303.7,385.5 L304.5,384.2 L305.3,382.9 L306.1,381.6 L306.9,380.3 L307.6,379.0 L308.4,377.7 L309.2,376.5 L310.0,375.2 L310.8,373.9 L311.6,372.6 L312.4,371.3 L313.2,370.1 L314.0,368.8 L314.8,367.6 L315.7,366.3 L316.5,365.1 L317.4,363.8 L318.3,362.6 L319.1,361.4 L320.0,360.2 L321.0,359.0 L321.9,357.8 L322.8,356.6 L323.8,355.5 L324.7,354.3 L325.7,353.1 L326.7,352.0 L327.7,350.9 L328.7,349.7 L329.7,348.6 L330.7,347.5 L331.7,346.4 L332.7,345.3 L333.8,344.2 L334.8,343.1 L335.9,342.1 L336.9,341.0 L338.0,340.0 L339.1,338.9 L340.2,337.9 L341.3,336.9 L342.4,335.8 L343.5,334.8 L344.6,333.8 L345.7,332.8 L346.9,331.8 L348.0,330.8 L349.1,329.9 L350.3,328.9 L351.4,327.9 L352.6,326.9 L353.7,325.9 L354.9,325.0 L356.0,324.0 L357.2,323.0 L358.3,322.1 L359.5,321.1 L360.7,320.2 L361.8,319.2 L363.0,318.3 L364.2,317.3 L365.4,316.4 L366.6,315.5 L367.8,314.6 L369.0,313.6 L370.2,312.7 L371.4,311.9 L372.6,311.0 L373.8,310.1 L375.0,309.2 L376.3,308.4 L377.5,307.5 L378.8,306.7 L380.0,305.9 L381.3,305.1 L382.6,304.3 L383.8,303.5 L385.1,302.7 L386.4,302.0 L387.7,301.2 L389.0,300.5 L390.3,299.7 L391.7,299.0 L393.0,298.2 L394.3,297.5 L395.6,296.8 L396.9,296.1 L398.3,295.4 L399.6,294.7 L401.0,294.0 L402.3,293.3 L403.6,292.6 L405.0,291.9 L406.3,291.2 L407.7,290.6 L409.0,289.9 L410.4,289.2 L411.7,288.6 L413.1,288.0 L414.5,287.3 L415.8,286.7 L417.2,286.1 L418.6,285.4 L420.0,284.8 L421.3,284.2 L422.7,283.6 L424.1,283.0 L425.5,282.5 L426.9,281.9 L428.3,281.3 L429.7,280.8 L431.1,280.2 L432.5,279.7 L433.9,279.1 L435.3,278.6 L436.7,278.1 L438.1,277.6 L439.5,277.1 L440.9,276.6 L442.4,276.1 L443.8,275.6 L445.2,275.1 L446.7,274.7 L448.1,274.2 L449.5,273.8 L451.0,273.3 L452.4,272.9 L453.9,272.5 L455.3,272.1 L456.8,271.6 L458.2,271.2 L459.7,270.9 L461.1,270.5 L462.6,270.1 L464.0,269.7 L465.5,269.4 L467.0,269.0 L468.4,268.7 L469.9,268.3 L471.4,268.0 L472.8,267.7 L474.3,267.4 L475.8,267.1 L477.3,266.8 L478.7,266.5 L480.2,266.2 L481.7,265.9 L483.2,265.6 L484.7,265.4 L486.2,265.1 L487.6,264.9 L489.1,264.6 L490.6,264.4 L492.1,264.2 L493.6,264.0 L495.1,263.8 L496.6,263.6 L498.1,263.4 L499.6,263.2 L501.1,263.0 L502.6,262.8 L504.1,262.7 L505.5,262.5 L507.0,262.4 L508.5,262.2 L510.0,262.1 L511.5,261.9 L513.0,261.8 L514.5,261.6 L516.0,261.5 L517.5,261.4 L519.0,261.3 L520.5,261.1 L522.0,261.0 L523.5,260.9 L525.0,260.8 L526.5,260.7 L528.0,260.6 L529.5,260.4 L531.0,260.3 L532.5,260.2 L534.0,260.1 L535.5,260.0 L537.1,259.9 L538.6,259.8 L540.1,259.7 L541.6,259.7 L543.1,259.6 L544.6,259.5 L546.1,259.4 L547.6,259.4 L549.1,259.3 L550.6,259.3 L552.1,259.2 L553.6,259.2 L555.1,259.2 L556.6,259.2 L558.1,259.2 L559.6,259.2 L561.1,259.2 L562.6,259.2 L564.1,259.2 L565.6,259.2 L567.1,259.3 L568.6,259.3 L570.1,259.4 L571.7,259.4 L573.2,259.5 L574.7,259.6 L576.2,259.7 L577.7,259.7 L579.2,259.8 L580.7,259.9 L582.2,260.0 L583.7,260.1 L585.2,260.2 L586.7,260.3 L588.2,260.4 L589.7,260.5 L591.2,260.6 L592.7,260.7 L594.2,260.8 L595.7,260.9 L597.2,261.0 L598.7,261.1 L600.2,261.3 L601.7,261.4 L603.2,261.5 L604.7,261.6 L606.2,261.8 L607.7,261.9 L609.2,262.0 L610.7,262.2 L612.2,262.3 L613.7,262.5 L615.2,262.6 L616.7,262.8 L618.2,262.9 L619.7,263.1 L621.2,263.3 L622.7,263.4 L624.2,263.6 L625.7,263.8 L627.2,263.9 L628.7,264.1 L630.2,264.3 L631.7,264.5 L633.1,264.7 L634.6,264.9 L636.1,265.1 L637.6,265.3 L639.1,265.5 L640.6,265.7 L642.1,265.9 L643.6,266.1 L645.1,266.3 L646.6,266.5 L648.1,266.7 L649.6,266.9 L651.0,267.2 L652.5,267.4 L654.0,267.6 L655.5,267.9 L657.0,268.1 L658.5,268.4 L660.0,268.6 L661.5,268.9 L662.9,269.1 L664.4,269.4 L665.9,269.7 L667.4,270.0 L668.9,270.3 L670.3,270.6 L671.8,270.9 L673.3,271.2 L674.7,271.5 L676.2,271.8 L677.7,272.2 L679.1,272.5 L680.6,272.9" stroke="#0072BD" stroke-width="2.85" fill="none" stroke-dasharray="2.5 2.43" stroke-dashoffset="0.0"/>
<path d="M269.1,503.6 L269.2,502.1 L269.2,500.6 L269.2,499.1 L269.3,497.6 L269.3,496.1 L269.4,494.6 L269.5,493.1 L269.6,491.6 L269.7,490.1 L269.8,488.6 L269.9,487.1 L270.0,485.6 L270.2,484.1 L270.3,482.6 L270.5,481.1 L270.6,479.6 L270.8,478.1 L271.0,476.6 L271.2,475.1 L271.4,473.6 L271.6,472.1 L271.8,470.6 L272.0,469.1 L272.3,467.7 L272.5,466.2 L272.7,464.7 L273.0,463.2 L273.3,461.7 L273.5,460.2 L273.8,458.8 L274.1,457.3 L274.4,455.8 L274.7,454.3 L275.0,452.9 L275.4,451.4 L275.7,449.9 L276.0,448.5 L276.4,447.0 L276.7,445.5 L277.1,444.1 L277.5,442.6 L277.8,441.2 L278.2,439.7 L278.6,438.2 L279.0,436.8 L279.4,435.3 L279.8,433.9 L280.2,432.4 L280.7,431.0 L281.1,429.6 L281.5,428.1 L282.0,426.7 L282.4,425.2 L282.9,423.8 L283.4,422.4 L283.8,421.0 L284.3,419.5 L284.8,418.1 L285.3,416.7 L285.8,415.3 L286.3,413.8 L286.8,412.4 L287.3,411.0 L287.8,409.6 L288.3,408.2 L288.9,406.8 L289.4,405.4 L289.9,404.0 L290.5,402.6 L291.0,401.2 L291.6,399.8 L292.1,398.4 L292.7,397.0 L293.2,395.6 L293.8,394.2 L294.4,392.8 L294.9,391.4 L295.5,390.0 L296.1,388.6 L296.6,387.2 L297.2,385.8 L297.8,384.4 L298.3,383.0 L298.9,381.7 L299.5,380.3 L300.0,378.9 L300.6,377.5 L301.1,376.1 L301.7,374.7 L302.3,373.3 L302.8,371.9 L303.4,370.5 L304.0,369.1 L304.5,367.7 L305.1,366.3 L305.6,364.9 L306.2,363.5 L306.7,362.1 L307.3,360.7 L307.9,359.3 L308.4,357.9 L309.0,356.5 L309.5,355.1 L310.1,353.7 L310.6,352.3 L311.1,350.9 L311.7,349.5 L312.2,348.1 L312.7,346.7 L313.3,345.3 L313.8,343.9 L314.3,342.5 L314.8,341.0 L315.3,339.6 L315.8,338.2 L316.3,336.8 L316.8,335.4 L317.3,333.9 L317.8,332.5 L318.2,331.1 L318.7,329.6 L319.1,328.2 L319.6,326.8 L320.0,325.3 L320.5,323.9 L320.9,322.4 L321.3,321.0 L321.7,319.5 L322.1,318.1 L322.4,316.6 L322.8,315.1 L323.1,313.7 L323.5,312.2 L323.8,310.7 L324.1,309.2 L324.4,307.8 L324.6,306.3 L324.9,304.8 L325.1,303.3 L325.3,301.8 L325.5,300.3 L325.7,298.8 L325.8,297.4 L326.0,295.9 L326.1,294.4 L326.1,292.9 L326.2,291.4 L326.2,289.9 L326.2,288.4 L326.2,286.9 L326.2,285.3 L326.1,283.8 L326.1,282.3 L325.9,280.8 L325.8,279.3 L325.7,277.8 L325.5,276.3 L325.3,274.8 L325.1,273.3 L324.8,271.8 L324.6,270.4 L324.3,268.9 L324.0,267.4 L323.7,265.9 L323.3,264.5 L322.9,263.0 L322.6,261.5 L322.2,260.1 L321.7,258.7 L321.3,257.2 L320.8,255.8 L320.4,254.4 L319.9,252.9 L319.4,251.5 L318.9,250.1 L318.4,248.7 L317.8,247.3 L317.3,245.9 L316.7,244.5 L316.2,243.1 L315.6,241.7 L315.0,240.3 L314.4,238.9 L313.8,237.6 L313.1,236.2 L312.5,234.8 L311.8,233.5 L311.1,232.2 L310.4,230.8 L309.7,229.5 L309.0,228.2 L308.2,226.9 L307.5,225.6 L306.7,224.3 L305.9,223.0 L305.1,221.7 L304.3,220.5 L303.4,219.2 L302.6,218.0 L301.7,216.8 L300.8,215.5 L299.9,214.3 L299.0,213.1 L298.1,212.0 L297.2,210.8 L296.2,209.6 L295.3,208.4 L294.3,207.3 L293.4,206.1 L292.4,205.0 L291.4,203.9 L290.4,202.7 L289.4,201.6 L288.4,200.5 L287.4,199.4 L286.3,198.3 L285.3,197.2 L284.3,196.1 L283.2,195.0 L282.2,193.9 L281.1,192.8 L280.1,191.7 L279.1,190.7 L278.0,189.6 L276.9,188.5 L275.9,187.4 L274.8,186.3 L273.8,185.3 L272.7,184.2 L271.7,183.1 L270.6,182.0 L269.6,180.9 L268.5,179.8 L267.5,178.7 L266.5,177.6 L265.4,176.5 L264.4,175.4 L263.4,174.3 L262.4,173.2 L261.4,172.1 L260.3,171.0 L259.3,169.9 L258.3,168.8 L257.3,167.6 L256.3,166.5 L255.3,165.4 L254.3,164.3 L253.3,163.2 L252.3,162.1 L251.2,160.9 L250.2,159.8 L249.2,158.7 L248.2,157.6 L247.2,156.5 L246.1,155.4 L245.1,154.3 L244.1,153.2 L243.0,152.2 L242.0,151.1 L240.9,150.0 L239.9,148.9 L238.8,147.9 L237.8,146.8 L236.7,145.8 L235.6,144.7 L234.6,143.6 L233.5,142.6 L232.4,141.6 L231.3,140.5 L230.2,139.5 L229.1,138.5 L228.0,137.4 L226.9,136.4 L225.8,135.4 L224.7,134.4 L223.6,133.3 L222.5,132.3 L221.4,131.3 L220.3,130.3 L219.1,129.3 L218.0,128.3 L216.9,127.3 L215.8,126.3 L214.6,125.3 L213.5,124.3 L212.4,123.3 L211.3,122.3 L210.1,121.3 L209.0,120.3 L207.9,119.3 L206.7,118.3 L205.6,117.3 L204.4,116.4 L203.3,115.4 L202.2,114.4 L201.0,113.4 L199.9,112.4 L198.8,111.4 L197.6,110.4 L196.5,109.4 L195.4,108.5 L194.2,107.5 L193.1,106.5 L191.9,105.5 L190.8,104.5 L189.7,103.5 L188.5,102.5 L187.4,101.5 L186.2,100.6 L185.1,99.6 L184.0,98.6 L182.8,97.6 L181.7,96.6 L180.6,95.6 L179.4,94.7 L178.3,93.7 L177.1,92.7 L176.0,91.7 L174.9,90.7 L173.7,89.7 L172.6,88.8 L171.4,87.8 L170.3,86.8 L169.1,85.8 L168.0,84.8 L166.9,83.9 L165.7,82.9 L164.6,81.9 L163.4,80.9 L162.3,80.0 L161.1,79.0 L160.0,78.0 L158.8,77.0 L157.7,76.1 L156.5,75.1 L155.4,74.1 L154.2,73.2 L153.1,72.2 L151.9,71.2 L150.8,70.3 L149.6,69.3 L148.5,68.3 L147.3,67.4 L146.2,66.4 L145.0,65.4 L143.9,64.5 L142.7,63.5 L141.5,62.5 L140.4,61.6 L139.2,60.6 L138.1,59.7 L136.9,58.7 L135.7,57.8 L134.6,56.8 L133.4,55.9 L132.2,54.9 L131.1,54.0 L129.9,53.0 L128.7,52.1 L127.6,51.1 L126.4,50.2 L125.2,49.2 L124.1,48.3 L122.9,47.3 L121.7,46.4 L120.5,45.5 L119.4,44.5 L118.2,43.6 L117.0,42.6 L115.8,41.7 L114.6,40.8 L113.5,39.9 L112.3,38.9 L111.1,38.0 L109.9,37.1 L108.7,36.1 L107.5,35.2 L106.3,34.3 L105.1,33.4 L104.0,32.5 L102.8,31.5 L101.6,30.6 L100.4,29.7 L99.2,28.8 L98.0,27.9 L96.8,27.0 L95.6,26.1 L94.4,25.2 L93.2,24.3 L91.9,23.4" stroke="#D95319" stroke-width="2.85" fill="none" stroke-dasharray="2.5 2.43" stroke-dashoffset="0.0"/>
<path d="M269.1,503.6 L269.1,502.1 L269.2,500.6 L269.2,499.1 L269.3,497.6 L269.3,496.1 L269.4,494.6 L269.5,493.1 L269.6,491.5 L269.7,490.0 L269.8,488.5 L269.9,487.0 L270.1,485.5 L270.2,484.0 L270.3,482.5 L270.5,481.0 L270.7,479.5 L270.8,478.0 L271.0,476.5 L271.2,475.0 L271.4,473.6 L271.6,472.1 L271.8,470.6 L272.1,469.1 L272.3,467.6 L272.5,466.1 L272.8,464.6 L273.0,463.1 L273.3,461.7 L273.6,460.2 L273.8,458.7 L274.1,457.2 L274.4,455.7 L274.7,454.3 L275.0,452.8 L275.4,451.3 L275.7,449.8 L276.0,448.4 L276.4,446.9 L276.7,445.4 L277.1,444.0 L277.5,442.5 L277.8,441.1 L278.2,439.6 L278.6,438.1 L279.0,436.7 L279.4,435.2 L279.8,433.8 L280.3,432.3 L280.7,430.9 L281.1,429.5 L281.6,428.0 L282.0,426.6 L282.5,425.1 L282.9,423.7 L283.4,422.3 L283.9,420.9 L284.4,419.4 L284.9,418.0 L285.4,416.6 L285.9,415.2 L286.4,413.7 L286.9,412.3 L287.5,410.9 L288.0,409.5 L288.6,408.1 L289.1,406.7 L289.7,405.3 L290.2,403.9 L290.8,402.5 L291.4,401.1 L292.0,399.7 L292.6,398.3 L293.2,397.0 L293.8,395.6 L294.4,394.2 L295.0,392.8 L295.7,391.5 L296.3,390.1 L296.9,388.7 L297.6,387.4 L298.2,386.0 L298.9,384.7 L299.6,383.3 L300.2,382.0 L300.9,380.6 L301.6,379.3 L302.3,377.9 L303.0,376.6 L303.7,375.3 L304.4,373.9 L305.1,372.6 L305.8,371.3 L306.6,370.0 L307.3,368.7 L308.0,367.4 L308.8,366.1 L309.5,364.7 L310.3,363.4 L311.1,362.1 L311.8,360.8 L312.6,359.6 L313.4,358.3 L314.2,357.0 L314.9,355.7 L315.7,354.4 L316.5,353.1 L317.4,351.9 L318.2,350.6 L319.0,349.3 L319.8,348.1 L320.7,346.8 L321.5,345.6 L322.4,344.3 L323.2,343.1 L324.1,341.9 L325.0,340.7 L325.9,339.5 L326.8,338.3 L327.8,337.1 L328.7,335.9 L329.7,334.8 L330.6,333.6 L331.6,332.5 L332.6,331.3 L333.6,330.2 L334.6,329.1 L335.7,328.0 L336.7,326.9 L337.8,325.9 L338.9,324.8 L339.9,323.8 L341.0,322.7 L342.2,321.7 L343.3,320.7 L344.4,319.7 L345.6,318.7 L346.7,317.8 L347.9,316.8 L349.1,315.9 L350.3,315.0 L351.5,314.1 L352.7,313.2 L354.0,312.3 L355.2,311.5 L356.5,310.7 L357.7,309.8 L359.0,309.0 L360.3,308.2 L361.6,307.5 L362.9,306.7 L364.2,306.0 L365.5,305.3 L366.9,304.6 L368.2,303.9 L369.6,303.2 L370.9,302.6 L372.3,301.9 L373.7,301.3 L375.1,300.7 L376.5,300.2 L377.9,299.6 L379.3,299.1 L380.7,298.5 L382.1,298.0 L383.5,297.6 L385.0,297.1 L386.4,296.7 L387.9,296.2 L389.3,295.8 L390.8,295.4 L392.2,295.1 L393.7,294.7 L395.2,294.4 L396.6,294.1 L398.1,293.8 L399.6,293.5 L401.1,293.3 L402.6,293.0 L404.1,292.8 L405.5,292.6 L407.0,292.4 L408.5,292.2 L410.0,292.1 L411.5,291.9 L413.0,291.8 L414.5,291.7 L416.0,291.6 L417.6,291.5 L419.1,291.4 L420.6,291.3 L422.1,291.2 L423.6,291.2 L425.1,291.2 L426.6,291.1 L428.1,291.1 L429.6,291.1 L431.1,291.1 L432.6,291.1 L434.1,291.1 L435.6,291.1 L437.2,291.1 L438.7,291.2 L440.2,291.2 L441.7,291.3 L443.2,291.3 L444.7,291.4 L446.2,291.5 L447.7,291.6 L449.2,291.6 L450.7,291.7 L452.2,291.8 L453.7,292.0 L455.2,292.1 L456.7,292.2 L458.2,292.3 L459.7,292.4 L461.2,292.6 L462.7,292.7 L464.2,292.9 L465.7,293.0 L467.2,293.2 L468.7,293.4 L470.2,293.5 L471.7,293.7 L473.2,293.9 L474.7,294.1 L476.2,294.3 L477.7,294.5 L479.2,294.6 L480.7,294.8 L482.2,295.0 L483.7,295.3 L485.2,295.5 L486.7,295.7 L488.2,295.9 L489.7,296.1 L491.1,296.3 L492.6,296.5 L494.1,296.8 L495.6,297.0 L497.1,297.2 L498.6,297.5 L500.1,297.7 L501.6,297.9 L503.1,298.2 L504.6,298.4 L506.0,298.6 L507.5,298.9 L509.0,299.1 L510.5,299.4 L512.0,299.6 L513.5,299.9 L514.9,300.2 L516.4,300.4 L517.9,300.7 L519.4,300.9 L520.9,301.2 L522.4,301.5 L523.8,301.8 L525.3,302.0 L526.8,302.3 L528.3,302.6 L529.8,302.9 L531.2,303.2 L532.7,303.5 L534.2,303.8 L535.7,304.1 L537.1,304.4 L538.6,304.7 L540.1,305.0 L541.6,305.3 L543.0,305.6 L544.5,305.9 L546.0,306.2 L547.5,306.5 L548.9,306.8 L550.4,307.1 L551.9,307.5 L553.4,307.8 L554.8,308.1 L556.3,308.4 L557.8,308.7 L559.3,309.0 L560.7,309.4 L562.2,309.7 L563.7,310.0 L565.2,310.3 L566.6,310.6 L568.1,311.0 L569.6,311.3 L571.1,311.6 L572.5,311.9 L574.0,312.2 L575.5,312.5 L577.0,312.8 L578.4,313.2 L579.9,313.5 L581.4,313.8 L582.9,314.1 L584.3,314.4 L585.8,314.7 L587.3,315.0 L588.8,315.3 L590.2,315.6 L591.7,315.9 L593.2,316.2 L594.7,316.5 L596.2,316.8 L597.6,317.1 L599.1,317.4 L600.6,317.7 L602.1,317.9 L603.6,318.2 L605.0,318.5 L606.5,318.8 L608.0,319.1 L609.5,319.4 L611.0,319.7 L612.4,319.9 L613.9,320.2 L615.4,320.5 L616.9,320.8 L618.4,321.1 L619.8,321.3 L621.3,321.6 L622.8,321.9 L624.3,322.2 L625.8,322.4 L627.2,322.7 L628.7,323.0 L630.2,323.3 L631.7,323.5 L633.2,323.8 L634.7,324.1 L636.1,324.4 L637.6,324.6 L639.1,324.9 L640.6,325.2 L642.1,325.5 L643.5,325.7 L645.0,326.0 L646.5,326.3 L648.0,326.5 L649.5,326.8 L651.0,327.1 L652.4,327.4 L653.9,327.6 L655.4,327.9 L656.9,328.2 L658.4,328.4 L659.9,328.7 L661.3,329.0 L662.8,329.3 L664.3,329.5 L665.8,329.8 L667.3,330.1 L668.8,330.4 L670.2,330.6 L671.7,330.9 L673.2,331.2 L674.7,331.5 L676.2,331.7 L677.6,332.0 L679.1,332.3 L680.6,332.6" stroke="#EDB120" stroke-width="2.85" fill="none" stroke-dasharray="2.5 2.43" stroke-dashoffset="0.0"/>
<path d="M269.1,503.6 L269.1,502.1 L269.2,500.6 L269.2,499.1 L269.3,497.6 L269.3,496.1 L269.4,494.6 L269.5,493.1 L269.6,491.6 L269.7,490.1 L269.8,488.6 L269.9,487.1 L270.1,485.6 L270.2,484.1 L270.4,482.6 L270.5,481.1 L270.7,479.6 L270.8,478.1 L271.0,476.6 L271.2,475.1 L271.4,473.6 L271.6,472.1 L271.8,470.6 L272.1,469.1 L272.3,467.6 L272.5,466.1 L272.8,464.7 L273.0,463.2 L273.3,461.7 L273.6,460.2 L273.8,458.7 L274.1,457.2 L274.4,455.8 L274.7,454.3 L275.0,452.8 L275.3,451.3 L275.7,449.9 L276.0,448.4 L276.4,446.9 L276.7,445.5 L277.1,444.0 L277.4,442.5 L277.8,441.1 L278.2,439.6 L278.6,438.2 L279.0,436.7 L279.4,435.3 L279.8,433.8 L280.2,432.4 L280.7,430.9 L281.1,429.5 L281.5,428.0 L282.0,426.6 L282.5,425.2 L282.9,423.7 L283.4,422.3 L283.9,420.9 L284.4,419.5 L284.9,418.0 L285.4,416.6 L285.9,415.2 L286.4,413.8 L287.0,412.4 L287.5,411.0 L288.0,409.6 L288.6,408.2 L289.1,406.8 L289.7,405.4 L290.3,404.0 L290.9,402.6 L291.4,401.2 L292.0,399.8 L292.6,398.4 L293.2,397.1 L293.8,395.7 L294.4,394.3 L295.0,392.9 L295.6,391.5 L296.3,390.2 L296.9,388.8 L297.5,387.4 L298.1,386.1 L298.8,384.7 L299.4,383.3 L300.0,382.0 L300.7,380.6 L301.3,379.2 L301.9,377.9 L302.6,376.5 L303.2,375.1 L303.8,373.8 L304.5,372.4 L305.1,371.0 L305.7,369.7 L306.4,368.3 L307.0,366.9 L307.7,365.6 L308.3,364.2 L308.9,362.8 L309.5,361.5 L310.2,360.1 L310.8,358.7 L311.4,357.4 L312.0,356.0 L312.6,354.6 L313.2,353.3 L313.8,351.9 L314.4,350.5 L315.0,349.1 L315.6,347.7 L316.2,346.3 L316.8,345.0 L317.4,343.6 L318.0,342.2 L318.5,340.8 L319.1,339.4 L319.6,338.0 L320.2,336.6 L320.7,335.1 L321.2,333.7 L321.8,332.3 L322.3,330.9 L322.8,329.4 L323.2,328.0 L323.7,326.6 L324.2,325.1 L324.6,323.7 L325.0,322.2 L325.4,320.8 L325.8,319.3 L326.1,317.8 L326.4,316.4 L326.8,314.9 L327.0,313.4 L327.3,311.9 L327.5,310.4 L327.7,308.9 L327.8,307.4 L327.9,305.9 L328.0,304.4 L328.0,302.9 L327.9,301.4 L327.8,299.9 L327.7,298.5 L327.5,297.0 L327.2,295.5 L326.9,294.0 L326.5,292.6 L326.1,291.2 L325.6,289.7 L325.1,288.3 L324.5,286.9 L323.9,285.5 L323.3,284.2 L322.6,282.8 L321.9,281.5 L321.1,280.2 L320.3,278.9 L319.5,277.6 L318.6,276.4 L317.8,275.2 L316.8,273.9 L315.9,272.7 L315.0,271.5 L314.1,270.3 L313.1,269.1 L312.2,267.9 L311.2,266.8 L310.3,265.6 L309.3,264.4 L308.4,263.2 L307.5,262.0 L306.5,260.8 L305.6,259.6 L304.6,258.5 L303.7,257.3 L302.7,256.2 L301.7,255.0 L300.7,253.9 L299.7,252.8 L298.7,251.8 L297.6,250.7 L296.6,249.7 L295.5,248.6 L294.4,247.6 L293.2,246.6 L292.1,245.7 L290.9,244.7 L289.8,243.8 L288.6,242.8 L287.4,241.9 L286.2,241.0 L285.0,240.1 L283.8,239.2 L282.5,238.3 L281.3,237.4 L280.1,236.5 L278.8,235.6 L277.6,234.8 L276.4,233.9 L275.1,233.0 L273.9,232.2 L272.6,231.3 L271.4,230.4 L270.2,229.5 L268.9,228.7 L267.7,227.8 L266.5,226.9 L265.2,226.1 L264.0,225.2 L262.8,224.3 L261.6,223.4 L260.4,222.6 L259.1,221.7 L257.9,220.8 L256.7,219.9 L255.5,219.0 L254.3,218.1 L253.1,217.2 L251.9,216.3 L250.7,215.4 L249.5,214.5 L248.3,213.5 L247.1,212.6 L245.9,211.7 L244.8,210.7 L243.6,209.8 L242.4,208.9 L241.2,207.9 L240.0,207.0 L238.9,206.0 L237.7,205.1 L236.5,204.2 L235.3,203.3 L234.1,202.4 L232.9,201.5 L231.6,200.6 L230.4,199.8 L229.1,199.0 L227.9,198.2 L226.6,197.3 L225.3,196.5 L224.0,195.8 L222.8,195.0 L221.5,194.2 L220.2,193.4 L218.9,192.6 L217.6,191.9 L216.3,191.1 L215.0,190.3 L213.7,189.5 L212.4,188.7 L211.1,188.0 L209.8,187.2 L208.6,186.4 L207.3,185.6 L206.0,184.8 L204.7,184.1 L203.4,183.3 L202.1,182.5 L200.8,181.7 L199.5,181.0 L198.2,180.2 L197.0,179.4 L195.7,178.6 L194.4,177.8 L193.1,177.1 L191.8,176.3 L190.5,175.5 L189.2,174.7 L187.9,173.9 L186.6,173.2 L185.4,172.4 L184.1,171.6 L182.8,170.8 L181.5,170.0 L180.2,169.3 L178.9,168.5 L177.6,167.7 L176.3,166.9 L175.0,166.1 L173.8,165.4 L172.5,164.6 L171.2,163.8 L169.9,163.0 L168.6,162.3 L167.3,161.5 L166.0,160.7 L164.7,159.9 L163.4,159.1 L162.2,158.3 L160.9,157.6 L159.6,156.8 L158.3,156.0 L157.0,155.2 L155.7,154.4 L154.4,153.6 L153.2,152.9 L151.9,152.1 L150.6,151.3 L149.3,150.5 L148.0,149.7 L146.7,148.9 L145.4,148.1 L144.2,147.4 L142.9,146.6 L141.6,145.8 L140.3,145.0 L139.0,144.2 L137.7,143.4 L136.5,142.6 L135.2,141.8 L133.9,141.0 L132.6,140.2 L131.3,139.4 L130.1,138.6 L128.8,137.9 L127.5,137.1 L126.2,136.3 L125.0,135.5 L123.7,134.7 L122.4,133.9 L121.1,133.1 L119.9,132.3 L118.6,131.4 L117.3,130.6 L116.0,129.8 L114.8,129.0 L113.5,128.2 L112.2,127.4 L111.0,126.6 L109.7,125.8 L108.4,125.0 L107.1,124.2 L105.9,123.4 L104.6,122.5 L103.3,121.7 L102.1,120.9 L100.8,120.1 L99.6,119.3 L98.3,118.4 L97.0,117.6 L95.8,116.8 L94.5,116.0 L93.3,115.1 L92.0,114.3" stroke="#7E2F8E" stroke-width="2.85" fill="none" stroke-dasharray="2.5 2.43" stroke-dashoffset="0.0"/>
<rect x="328.1" y="270.8" width="10" height="10" stroke="#000" stroke-width="3.3" fill="#fff"/>
</g>
<g stroke="#1c1c1c" stroke-width="1.7"><line x1="99.4" y1="507.8" x2="99.4" y2="501.3"/><line x1="244.7" y1="507.8" x2="244.7" y2="501.3"/><line x1="390.0" y1="507.8" x2="390.0" y2="501.3"/><line x1="535.3" y1="507.8" x2="535.3" y2="501.3"/><line x1="680.6" y1="507.8" x2="680.6" y2="501.3"/><line x1="99.4" y1="507.8" x2="105.9" y2="507.8"/><line x1="99.4" y1="341.3" x2="105.9" y2="341.3"/><line x1="99.4" y1="174.8" x2="105.9" y2="174.8"/><line x1="99.4" y1="8.3" x2="105.9" y2="8.3"/>
<line x1="99.4" y1="7.500000000000001" x2="99.4" y2="508.6"/><line x1="98.60000000000001" y1="507.8" x2="681.4" y2="507.8"/></g>
<g font-family="'Liberation Sans',sans-serif" font-size="23.3" fill="#0a0a0a" stroke="#0a0a0a" stroke-width="0.25"><text x="99.4" y="540.1" text-anchor="middle">4</text><text x="244.7" y="540.1" text-anchor="middle">5</text><text x="390.0" y="540.1" text-anchor="middle">6</text><text x="535.3" y="540.1" text-anchor="middle">7</text><text x="680.6" y="540.1" text-anchor="middle">8</text><text x="91.6" y="516.7" text-anchor="end">0</text><text x="91.6" y="350.2" text-anchor="end">0.005</text><text x="91.6" y="183.7" text-anchor="end">0.01</text><text x="91.6" y="17.2" text-anchor="end">0.015</text></g>
<g fill="#000" stroke="#000" stroke-width="0.2"><line x1="492.3" y1="21.2" x2="541.4" y2="21.2" stroke="#0072BD" stroke-width="2.7"/><text y="27.6"><tspan x="546.8" font-family="'DejaVu Sans','Liberation Sans',sans-serif" font-size="20.3" font-style="italic" letter-spacing="0.47">NFP-NR-</tspan><tspan x="631.9" font-family="'Liberation Serif',serif" font-style="italic" font-size="22.9">O</tspan><tspan x="650.3" font-family="'Liberation Serif',serif" font-size="21">(3)</tspan></text><line x1="492.3" y1="46.6" x2="541.4" y2="46.6" stroke="#D95319" stroke-width="2.7"/><text y="52.0"><tspan x="546.8" font-family="'DejaVu Sans','Liberation Sans',sans-serif" font-size="20.3" font-style="italic" letter-spacing="0.47">NFP-NR-</tspan><tspan x="631.9" font-family="'Liberation Serif',serif" font-style="italic" font-size="22.9">O</tspan><tspan x="650.3" font-family="'Liberation Serif',serif" font-size="21">(5)</tspan></text><line x1="492.3" y1="70.4" x2="541.4" y2="70.4" stroke="#EDB120" stroke-width="2.7"/><text y="76.4"><tspan x="546.8" font-family="'DejaVu Sans','Liberation Sans',sans-serif" font-size="20.3" font-style="italic" letter-spacing="0.47">NFP-NR-</tspan><tspan x="631.9" font-family="'Liberation Serif',serif" font-style="italic" font-size="22.9">O</tspan><tspan x="650.3" font-family="'Liberation Serif',serif" font-size="21">(7)</tspan></text><line x1="492.3" y1="95.0" x2="541.4" y2="95.0" stroke="#7E2F8E" stroke-width="2.7"/><text y="100.8"><tspan x="546.8" font-family="'DejaVu Sans','Liberation Sans',sans-serif" font-size="20.3" font-style="italic" letter-spacing="0.47">NFP-NR-</tspan><tspan x="631.9" font-family="'Liberation Serif',serif" font-style="italic" font-size="22.9">O</tspan><tspan x="650.3" font-family="'Liberation Serif',serif" font-size="21">(9)</tspan></text><line x1="492.3" y1="118.0" x2="541.4" y2="118.0" stroke="#000" stroke-width="2.7"/><text x="546.8" y="125.2" font-family="'DejaVu Sans','Liberation Sans',sans-serif" font-size="19.75">Continuation</text></g>
<g fill="#000"><g transform="translate(19.8,300) rotate(-90)" font-family="'Liberation Serif',serif"><text font-size="28.7" y="0"><tspan x="4.03">|</tspan><tspan x="10.73">|</tspan><tspan x="48.43">|</tspan><tspan x="55.23">|</tspan></text><text transform="translate(17.9,0) scale(1.15,1)" x="0" y="0" font-size="26.4" font-style="italic">z</text><text x="28.4" y="3.7" font-size="17.6">29</text><text x="61.9" y="7" font-size="24">∞</text></g><text transform="translate(380.4,568.4) scale(1,1.09)" font-family="'Liberation Serif',serif" font-size="26.4">Ω</text></g>
</svg>
</body></html>
